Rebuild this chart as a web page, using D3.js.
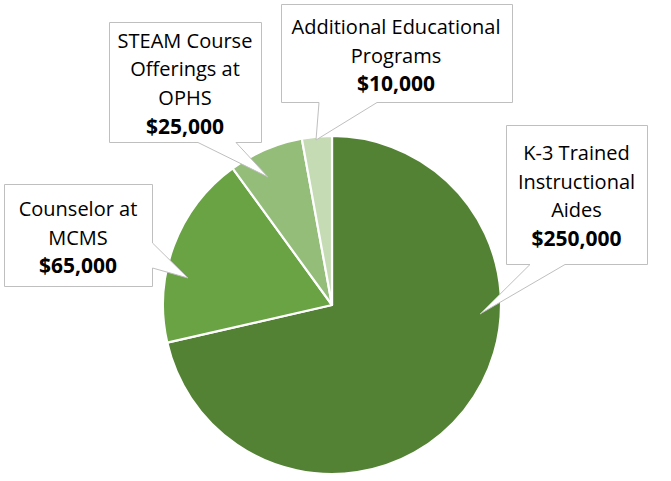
<!DOCTYPE html>
<html>
<head>
<meta charset="utf-8">
<script src="https://cdn.jsdelivr.net/npm/d3@7"></script>
<style>
  html, body { margin: 0; padding: 0; background: #fff; }
  svg { display: block; }
  text { font-family: "Segoe UI", "Open Sans", sans-serif; fill: #000; }
</style>
</head>
<body>
<svg id="chart" width="671" height="481"></svg>
<script>
// ---- data ----
const categories = [
  "K-3 Trained Instructional Aides",
  "Counselor at MCMS",
  "STEAM Course Offerings at OPHS",
  "Additional Educational Programs"
];
const values = [250000, 65000, 25000, 10000];
const labelLines = [
  ["K-3 Trained", "Instructional", "Aides"],
  ["Counselor at", "MCMS"],
  ["STEAM Course", "Offerings at", "OPHS"],
  ["Additional Educational", "Programs"]
];

// ---- styles / layout ----
const colors = ["#548235", "#69A343", "#93BD79", "#C4DBB4"];
const center = [332, 305];
const radius = 169;
const lineH = 28.6;
// callout layout: box, pointer base along an edge, tip, first baseline
const callouts = [
  { x: 506, y: 125, w: 141, h: 139, edge: "bottom", b0: 530, b1: 565, tip: [480, 314], base: 160 },
  { x: 4, y: 184, w: 148, h: 102, edge: "right", b0: 243, b1: 268, tip: [188, 278], base: 216 },
  { x: 109, y: 22, w: 152, h: 120, edge: "bottom", b0: 198, b1: 236, tip: [268, 177], base: 47.7 },
  { x: 280.5, y: 4, w: 231, h: 97.5, edge: "bottom", b0: 319, b1: 377, tip: [316, 140], base: 34 }
];

const svg = d3.select("#chart");
const data = categories.map((c, i) => ({ category: c, value: values[i], lines: labelLines[i], i }));

const pie = d3.pie().sort(null).value(d => d.value);
const arc = d3.arc().innerRadius(0).outerRadius(radius);
const color = d3.scaleOrdinal().domain(categories).range(colors);

const g = svg.append("g").attr("transform", `translate(${center[0]},${center[1]})`);
g.selectAll("path.slice")
  .data(pie(data))
  .join("path")
  .attr("class", "slice")
  .attr("d", arc)
  .attr("fill", d => color(d.data.category))
  .attr("stroke", "#fff")
  .attr("stroke-width", 2.2)
  .attr("stroke-linejoin", "round");

const fmt = d3.format("$,");

function calloutPath(c) {
  const x0 = Math.round(c.x) + 0.5, y0 = Math.round(c.y) + 0.5;
  const x1 = Math.round(c.x + c.w) + 0.5, y1 = Math.round(c.y + c.h) + 0.5;
  const p = d3.path();
  p.moveTo(x0, y0);
  p.lineTo(x1, y0);
  if (c.edge === "right") {
    p.lineTo(x1, c.b0);
    p.lineTo(c.tip[0], c.tip[1]);
    p.lineTo(x1, c.b1);
  }
  p.lineTo(x1, y1);
  if (c.edge === "bottom") {
    p.lineTo(c.b1, y1);
    p.lineTo(c.tip[0], c.tip[1]);
    p.lineTo(c.b0, y1);
  }
  p.lineTo(x0, y1);
  p.closePath();
  return p.toString();
}

const labels = svg.selectAll("g.callout")
  .data(data)
  .join("g")
  .attr("class", "callout");

labels.append("path")
  .attr("d", d => calloutPath(callouts[d.i]))
  .attr("fill", "#fff")
  .attr("stroke", "#BFBFBF")
  .attr("stroke-width", 1);

labels.each(function(d) {
  const c = callouts[d.i];
  const t = d3.select(this).append("text")
    .attr("text-anchor", "middle")
    .attr("font-size", 20);
  const cx = c.x + c.w / 2;
  d.lines.forEach((ln, k) => {
    t.append("tspan").attr("x", cx).attr("y", c.base + k * lineH).text(ln);
  });
  t.append("tspan")
    .attr("x", cx)
    .attr("y", c.base + d.lines.length * lineH)
    .attr("font-weight", "bold")
    .attr("font-size", 21)
    .text(fmt(d.value));
});
</script>
</body>
</html>
